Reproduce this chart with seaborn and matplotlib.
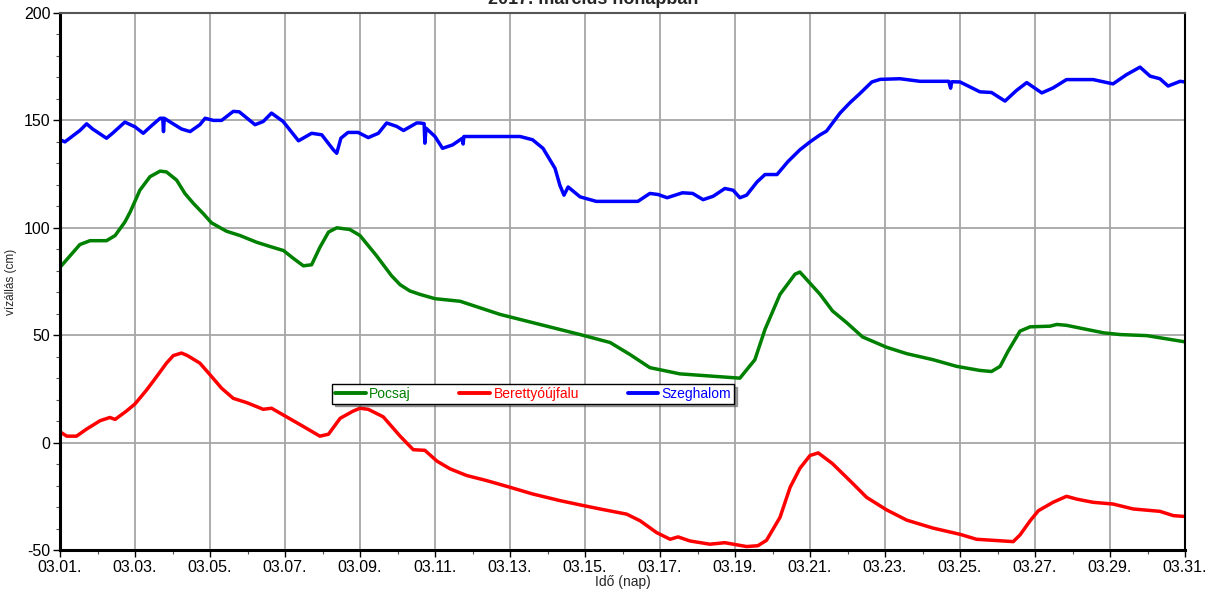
import matplotlib
matplotlib.use("Agg")
import matplotlib.pyplot as plt
import numpy as np
import pandas as pd
import seaborn as sns
from matplotlib.ticker import MultipleLocator, FixedLocator

# napok (március, tört nap) és vízállások (cm)
szeghalom_nap = [1.0, 1.13, 1.53, 1.71, 1.87, 2.24, 2.4, 2.73, 3.0, 3.22, 3.42, 3.67, 3.74, 3.76, 3.78,
                 3.98, 4.24, 4.47, 4.73, 4.87, 5.09, 5.31, 5.62, 5.78, 6.2, 6.42, 6.64, 6.95, 7.36,
                 7.71, 7.98, 8.29, 8.38, 8.49, 8.68, 8.95, 9.22, 9.49, 9.71, 9.98, 10.16, 10.51,
                 10.6, 10.71, 10.73, 10.76, 11.0, 11.2, 11.47, 11.73, 11.75, 11.77, 13.27, 13.6,
                 13.88, 14.2, 14.33, 14.44, 14.55, 14.87, 15.3, 16.41, 16.73, 16.95, 17.19, 17.6,
                 17.87, 18.15, 18.42, 18.73, 18.95, 19.13, 19.31, 19.59, 19.8, 20.12, 20.41, 20.73,
                 21.0, 21.27, 21.44, 21.8, 22.07, 22.33, 22.65, 22.87, 23.4, 23.93, 24.7, 24.75,
                 24.78, 25.0, 25.53, 25.84, 26.2, 26.51, 26.78, 27.18, 27.48, 27.84, 28.55, 29.08,
                 29.44, 29.8, 30.07, 30.33, 30.55, 30.87, 31.0]
szeghalom_cm = [141, 140, 145.3, 148.4, 146, 141.7, 144, 149.2, 147, 144, 147.2, 151, 151, 144.8, 151,
                148.8, 146, 144.8, 148, 151, 150, 150, 154.2, 154, 148, 149.5, 153.4, 149.5, 140.5,
                144, 143.3, 136.3, 134.7, 141.7, 144.4, 144.4, 142, 144, 148.8, 147.2, 145.3, 148.8,
                148.8, 148.5, 139.4, 146.4, 142.5, 137, 138.6, 141.7, 139, 142.5, 142.5, 141,
                137, 127.7, 119.8, 115.2, 119, 114.4, 112.3, 112.3, 116, 115.5, 114, 116.3,
                116, 113.1, 114.7, 118.3, 117.5, 114, 115.2, 121.4, 124.8, 124.8, 130.8, 136.3,
                140, 143.3, 145, 153.4, 158.3, 162.5, 167.9, 169.1, 169.4, 168.2, 168.2, 165,
                168, 167.9, 163.3, 163, 159, 164, 167.6, 162.8, 165.1, 169, 169, 167,
                171.3, 174.8, 170.6, 169.4, 166, 168.2, 167.9]

pocsaj_nap = [1.0, 1.31, 1.53, 1.8, 2.24, 2.47, 2.73, 2.87, 3.13, 3.4, 3.67, 3.84, 4.11, 4.33, 4.56,
              4.82, 5.04, 5.44, 5.8, 6.24, 6.6, 6.96, 7.22, 7.49, 7.71, 7.93, 8.16, 8.38, 8.73, 9.0,
              9.44, 9.84, 10.07, 10.33, 10.6, 11.0, 11.67, 12.73, 13.8, 14.87, 15.67, 16.2, 16.73,
              17.53, 18.33, 19.13, 19.53, 19.8, 20.2, 20.6, 20.73, 21.27, 21.6, 21.98, 22.4, 23.04,
              23.58, 24.28, 24.91, 25.53, 25.84, 26.07, 26.28, 26.6, 26.87, 27.4, 27.58, 27.84,
              28.29, 28.83, 29.27, 29.98, 30.51, 31.0]
pocsaj_cm = [81.6, 87.8, 92.2, 94, 94, 96.4, 102.7, 107.3, 117.5, 123.8, 126.4, 126, 122.2, 116, 111.3,
             106.6, 102.3, 98.4, 96.4, 93.3, 91.3, 89.4, 85.8, 82.3, 82.8, 90.9, 98, 100, 99.2, 96.4,
             87, 77.7, 73.5, 70.6, 69, 67, 65.8, 59.7, 55, 50.3, 46.6, 41, 34.9,
             32, 31, 30, 38.6, 52.7, 69, 78.4, 79.4, 69, 61.3, 55.8, 49.2, 44.4,
             41.4, 38.6, 35.5, 33.6, 33.1, 35.5, 42.5, 51.9, 53.9, 54.2, 55, 54.6,
             53, 51.1, 50.3, 49.8, 48.3, 46.9]

berettyo_nap = [1.0, 1.18, 1.44, 1.71, 2.07, 2.33, 2.47, 2.78, 3.0, 3.31, 3.58, 3.84, 4.02, 4.24, 4.4,
                4.73, 5.0, 5.31, 5.62, 5.98, 6.42, 6.64, 6.96, 7.4, 7.93, 8.16, 8.47, 8.82, 9.0, 9.22,
                9.62, 10.07, 10.42, 10.73, 11.05, 11.4, 11.84, 12.38, 13.0, 13.6, 14.33, 14.87, 15.4,
                16.11, 16.47, 16.91, 17.27, 17.48, 17.8, 18.33, 18.73, 19.31, 19.61, 19.84, 20.2,
                20.47, 20.73, 21.0, 21.22, 21.6, 22.15, 22.51, 23.04, 23.58, 24.28, 25.0, 25.44,
                26.42, 26.6, 26.87, 27.09, 27.48, 27.84, 28.11, 28.55, 29.08, 29.62, 30.33, 30.69, 31.0]
berettyo_cm = [5, 3, 3, 6.3, 10.2, 11.7, 10.8, 14.8, 18, 24.5, 30.8, 37, 40.5, 41.7, 40.5,
               37, 31.6, 25.3, 20.6, 18.6, 15.5, 16, 12.8, 8.4, 3, 3.9, 11.3, 14.7, 16, 15.5,
               12, 3, -3.3, -3.6, -8.6, -12.2, -15.3, -17.7, -20.8, -23.9, -27, -29, -30.9,
               -33.3, -36.4, -41.9, -45, -43.9, -45.8, -47.3, -46.6, -48.4, -48, -45.5, -34.8,
               -20.8, -12, -6, -4.8, -9.8, -19.2, -25.5, -31.3, -36.1, -39.8, -42.7, -45,
               -46.1, -43, -36.4, -31.7, -27.8, -25, -26.3, -27.8, -28.6, -30.9, -32, -34, -34.4]

allomasok = ["Pocsaj", "Berettyóújfalu", "Szeghalom"]
szinek = ["#008000", "#ff0000", "#0000ff"]
nap_cimkek = ["03.%02d." % d for d in range(1, 32, 2)]

df = pd.concat([
    pd.DataFrame({"nap": pocsaj_nap, "cm": pocsaj_cm, "allomas": "Pocsaj"}),
    pd.DataFrame({"nap": berettyo_nap, "cm": berettyo_cm, "allomas": "Berettyóújfalu"}),
    pd.DataFrame({"nap": szeghalom_nap, "cm": szeghalom_cm, "allomas": "Szeghalom"}),
])

sns.set_style("white")
plt.rcParams["font.family"] = ["Liberation Sans", "DejaVu Sans"]
plt.rcParams["axes.unicode_minus"] = False

fig = plt.figure(figsize=(12.16, 5.9), dpi=100)
ax = fig.add_axes([60 / 1216, 40 / 590, 1125 / 1216, 537 / 590])

sns.lineplot(data=df, x="nap", y="cm", hue="allomas", hue_order=allomasok,
             palette=szinek, estimator=None, sort=True, lw=2.5, ax=ax)

ax.set_xlim(1, 31)
ax.set_ylim(-50, 200)
ax.xaxis.set_major_locator(FixedLocator(range(1, 32, 2)))
ax.set_xticklabels(nap_cimkek)
ax.xaxis.set_minor_locator(MultipleLocator(1))
ax.yaxis.set_major_locator(MultipleLocator(50))
ax.yaxis.set_minor_locator(MultipleLocator(10))
ax.tick_params(which="major", direction="out", length=5, width=1, labelsize=11.5,
               bottom=True, left=True, colors="black", pad=2)
ax.tick_params(which="minor", direction="out", length=3, width=0.8, bottom=True, left=True,
               color="#555555")
ax.grid(True, which="major", color="#a6a6a6", lw=1.3)

for side, lw, col in [("left", 2.2, "black"), ("bottom", 2.2, "black"),
                      ("top", 1.5, "#555555"), ("right", 1.5, "black")]:
    ax.spines[side].set_visible(True)
    ax.spines[side].set_linewidth(lw)
    ax.spines[side].set_color(col)

ax.set_xlabel("Idő (nap)", fontsize=10, labelpad=0)
ax.set_ylabel("vízállás (cm)", fontsize=8.5, labelpad=5)

leg = ax.legend(loc="upper left", bbox_to_anchor=(0.242, 0.309), ncol=3, fontsize=10,
                frameon=True, fancybox=False, shadow=True, edgecolor="black",
                handlelength=2.2, handletextpad=0.25, columnspacing=3.5, borderpad=0.2,
                borderaxespad=0)
leg.get_frame().set_linewidth(1.0)
for txt, line in zip(leg.get_texts(), leg.get_lines()):
    txt.set_color(line.get_color())
    line.set_linewidth(2.8)

fig.text(593 / 1216, 1 - 4 / 590, "2017. március hónapban", ha="center", va="baseline",
         fontsize=13, fontweight="bold")

fig.savefig("out.png", dpi=100)
